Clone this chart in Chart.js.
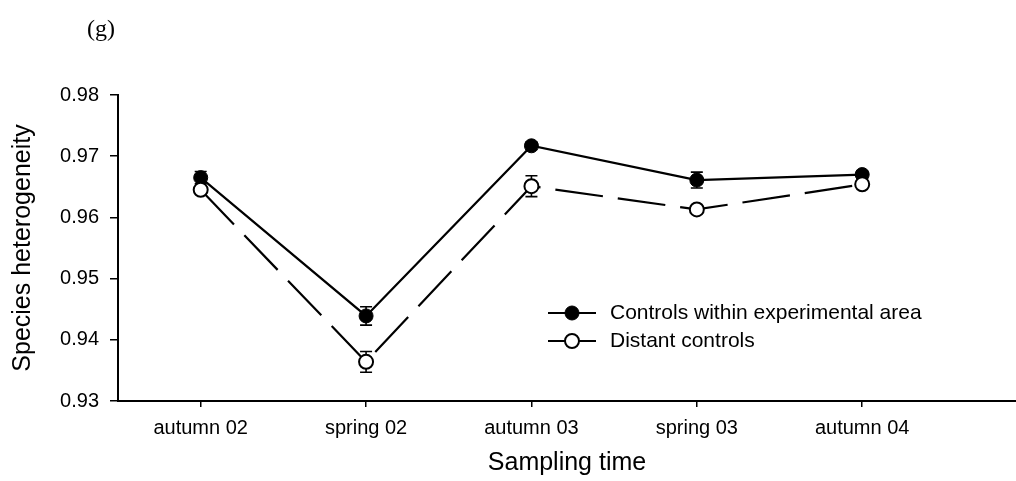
<!DOCTYPE html>
<html>
<head>
<meta charset="utf-8">
<script src="https://cdn.jsdelivr.net/npm/chart.js@4.4.0/dist/chart.umd.min.js"></script>
<style>
  html, body { margin: 0; padding: 0; background: #fff; }
  #wrap { width: 1016px; height: 481px; }
</style>
</head>
<body>
<div id="wrap"><canvas id="chart" width="1016" height="481"></canvas></div>
<script>
// Sampling occasions along the x axis
const samplingTimes = ['autumn 02', 'spring 02', 'autumn 03', 'spring 03', 'autumn 04'];

// Mean species heterogeneity and standard errors per group
const withinValues   = [0.9665, 0.9439, 0.9717, 0.9661, 0.9670];
const withinErrors   = [0.0010, 0.0015, 0.0006, 0.0013, 0.0006];
const distantValues  = [0.9645, 0.9364, 0.9651, 0.9613, 0.9654];
const distantErrors  = [0.0005, 0.0017, 0.0017, 0.0005, 0.0005];

// Y axis tick values
const yTicks = [0.93, 0.94, 0.95, 0.96, 0.97, 0.98];

const seriesNames = ['Controls within experimental area', 'Distant controls'];
const panelLabel = '(g)';

const SANS = '"Liberation Sans", Arial, Helvetica, sans-serif';
const SERIF = '"Liberation Serif", "Times New Roman", serif';

const toPoints = vals => vals.map((v, i) => ({ x: i, y: v }));

// Error bars under the markers, a legend with line + marker samples, and the panel letter
const decor = {
  id: 'decor',
  beforeDatasetsDraw(chart) {
    const { ctx, scales: { x, y } } = chart;
    ctx.save();
    ctx.strokeStyle = '#000';
    ctx.lineWidth = 1.6;
    chart.data.datasets.forEach(ds => {
      ds.data.forEach((p, i) => {
        const e = ds.errors[i];
        const px = x.getPixelForValue(p.x);
        const top = y.getPixelForValue(p.y + e);
        const bot = y.getPixelForValue(p.y - e);
        ctx.beginPath();
        ctx.moveTo(px, top); ctx.lineTo(px, bot);
        ctx.moveTo(px - 6, top); ctx.lineTo(px + 6, top);
        ctx.moveTo(px - 6, bot); ctx.lineTo(px + 6, bot);
        ctx.stroke();
      });
    });
    ctx.restore();
  },
  afterDraw(chart) {
    const { ctx } = chart;
    ctx.save();
    // panel letter
    ctx.fillStyle = '#000';
    ctx.font = '24px ' + SERIF;
    ctx.textBaseline = 'middle';
    ctx.textAlign = 'left';
    ctx.fillText(panelLabel, 87, 30);

    // legend
    const x0 = 548, x1 = 596, xm = 572, tx = 610;
    const rows = [313, 341];
    chart.data.datasets.forEach((ds, i) => {
      const ry = rows[i];
      ctx.strokeStyle = ds.borderColor;
      ctx.lineWidth = ds.borderWidth;
      ctx.setLineDash(ds.borderDash || []);
      ctx.beginPath();
      ctx.moveTo(x0, ry); ctx.lineTo(x1, ry);
      ctx.stroke();
      ctx.setLineDash([]);
      ctx.beginPath();
      ctx.arc(xm, ry, ds.pointRadius, 0, Math.PI * 2);
      ctx.fillStyle = ds.pointBackgroundColor;
      ctx.fill();
      ctx.lineWidth = ds.pointBorderWidth;
      ctx.strokeStyle = ds.pointBorderColor;
      ctx.stroke();
      ctx.fillStyle = '#000';
      ctx.font = '21px ' + SANS;
      ctx.textAlign = 'left';
      ctx.textBaseline = 'middle';
      ctx.fillText(ds.label, tx, ry);
    });
    ctx.restore();
  }
};

new Chart(document.getElementById('chart'), {
  type: 'line',
  data: {
    datasets: [
      {
        label: seriesNames[0],
        data: toPoints(withinValues),
        errors: withinErrors,
        borderColor: '#000',
        borderWidth: 2.2,
        pointRadius: 7,
        pointBackgroundColor: '#000',
        pointBorderColor: '#000',
        pointBorderWidth: 1,
        tension: 0,
        order: 1
      },
      {
        label: seriesNames[1],
        data: toPoints(distantValues),
        errors: distantErrors,
        borderColor: '#000',
        borderWidth: 2.2,
        borderDash: [48, 15],
        pointRadius: 7,
        pointBackgroundColor: '#fff',
        pointBorderColor: '#000',
        pointBorderWidth: 2,
        tension: 0,
        order: 0
      }
    ]
  },
  options: {
    responsive: false,
    animation: false,
    devicePixelRatio: 1,
    layout: { autoPadding: false, padding: { top: 95, left: 0, right: 0, bottom: 0 } },
    plugins: {
      legend: { display: false },
      tooltip: { enabled: false },
      title: { display: false }
    },
    scales: {
      x: {
        type: 'linear',
        min: -0.5,
        max: 4.93,
        afterBuildTicks: s => { s.ticks = samplingTimes.map((_, i) => ({ value: i })); },
        afterFit: s => { s.height = 80; },
        grid: { drawOnChartArea: false, drawTicks: true, tickLength: 6, color: '#000', lineWidth: 1.5 },
        border: { display: true, color: '#000', width: 2 },
        ticks: {
          callback: v => samplingTimes[v],
          autoSkip: false,
          maxRotation: 0,
          padding: 9,
          color: '#000',
          font: { family: SANS, size: 20 }
        },
        title: {
          display: true,
          text: 'Sampling time',
          color: '#000',
          font: { family: SANS, size: 25 },
          padding: { top: 0, bottom: 3 }
        }
      },
      y: {
        min: 0.93,
        max: 0.98,
        afterBuildTicks: s => { s.ticks = yTicks.map(v => ({ value: v })); },
        afterFit: s => { s.width = 118; },
        grid: { drawOnChartArea: false, drawTicks: true, tickLength: 8, color: '#000', lineWidth: 1.5 },
        border: { display: true, color: '#000', width: 2 },
        ticks: {
          callback: v => v.toFixed(2),
          padding: 11,
          color: '#000',
          font: { family: SANS, size: 20 }
        },
        title: {
          display: true,
          text: 'Species heterogeneity',
          color: '#000',
          font: { family: SANS, size: 25 },
          padding: { top: 8, bottom: 0 }
        }
      }
    }
  },
  plugins: [decor]
});
</script>
</body>
</html>
